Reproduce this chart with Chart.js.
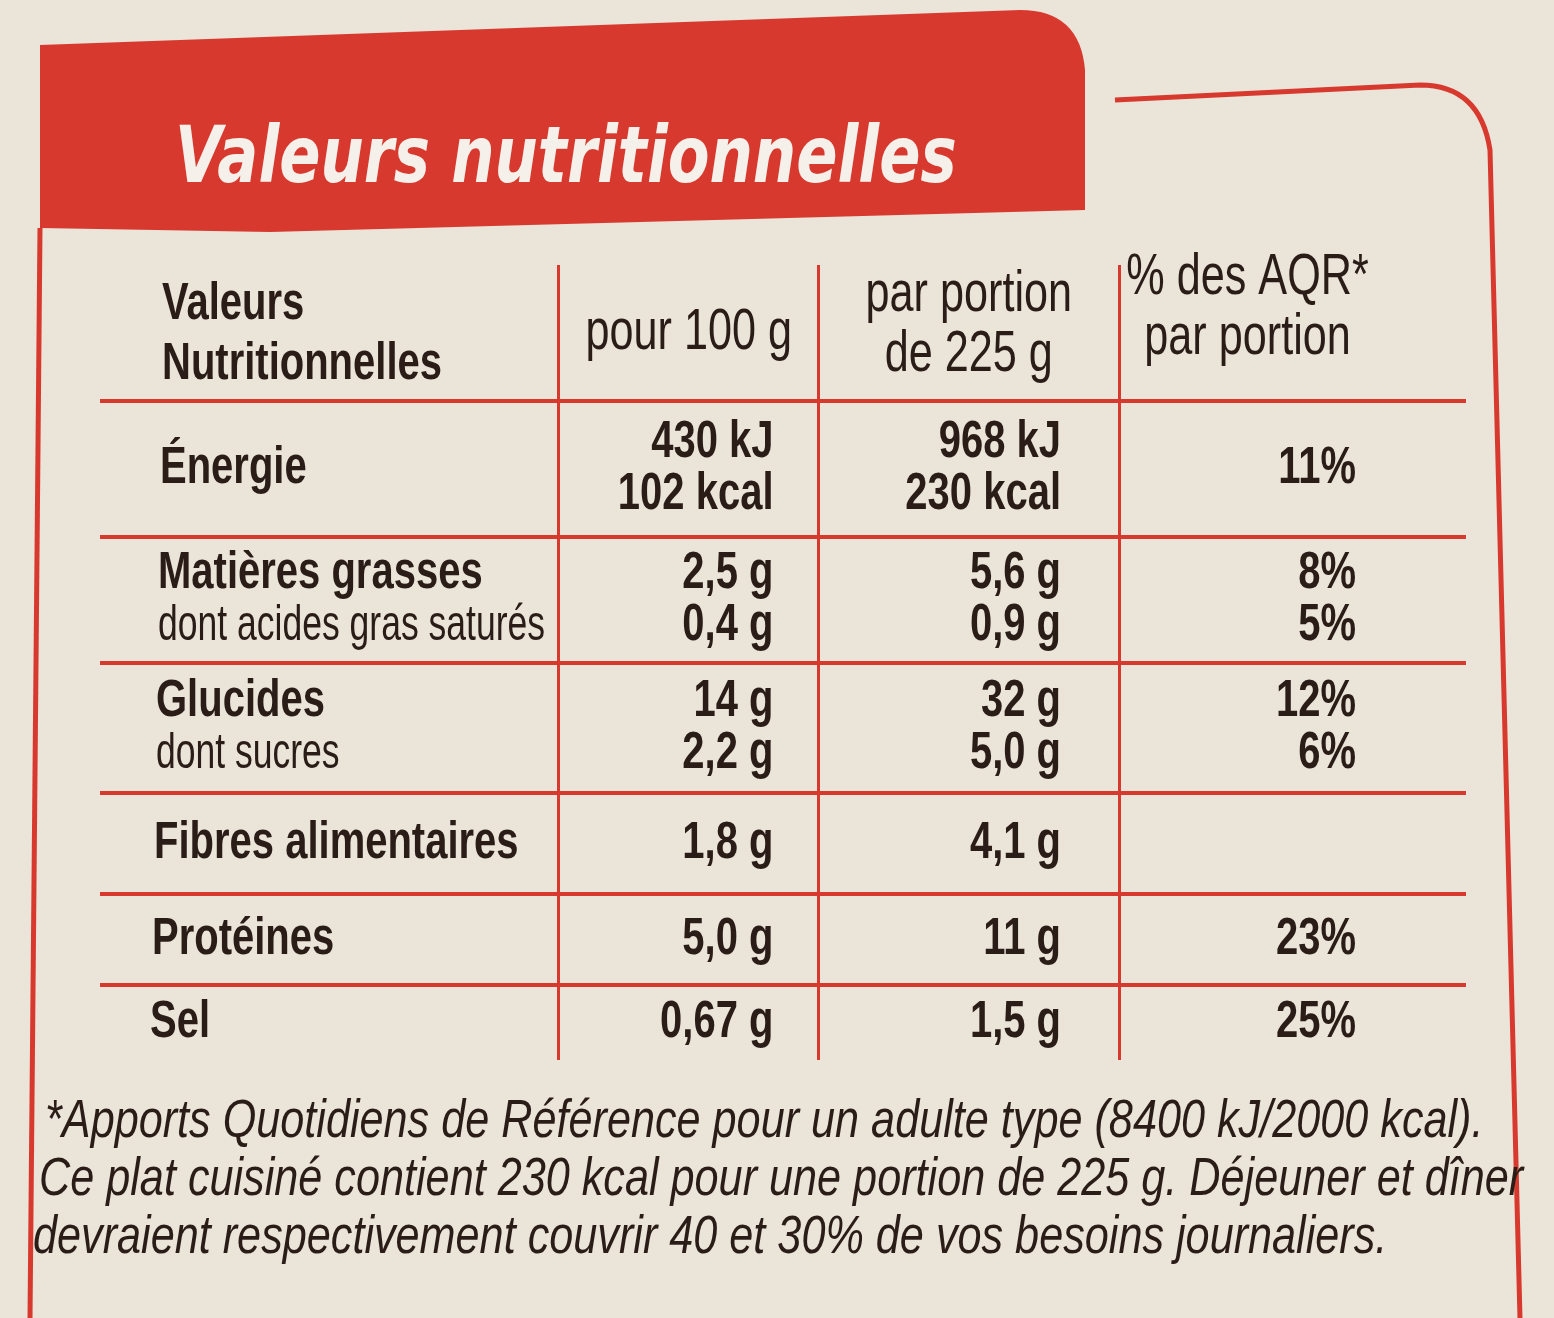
<!DOCTYPE html>
<html><head><meta charset="utf-8">
<script src="https://cdn.jsdelivr.net/npm/chart.js@4/dist/chart.umd.min.js"></script>
<style>html,body{margin:0;padding:0;background:#ebe4d9;}canvas{display:block}</style>
</head><body>
<div style="width:1554px;height:1318px;position:relative"><canvas id="c" width="1554" height="1318"></canvas></div>
<script>
const title = "Valeurs nutritionnelles";
const headers = [["Valeurs","Nutritionnelles"],["pour 100 g"],["par portion","de 225 g"],["% des AQR*","par portion"]];
const nutrients = [["Énergie"],["Matières grasses","dont acides gras saturés"],["Glucides","dont sucres"],["Fibres alimentaires"],["Protéines"],["Sel"]];
const per100 = [["430 kJ","102 kcal"],["2,5 g","0,4 g"],["14 g","2,2 g"],["1,8 g"],["5,0 g"],["0,67 g"]];
const perPortion = [["968 kJ","230 kcal"],["5,6 g","0,9 g"],["32 g","5,0 g"],["4,1 g"],["11 g"],["1,5 g"]];
const aqr = [["11%"],["8%","5%"],["12%","6%"],[],["23%"],["25%"]];
const colBounds = [0, 1.68, 2.63, 3.73, 5];
const rowBounds = [0, 1.35, 2.7, 3.95, 5.25, 6.25, 7.15, 7.9];
const footnote = ["*Apports Quotidiens de Référence pour un adulte type (8400 kJ/2000 kcal).","Ce plat cuisiné contient 230 kcal pour une portion de 225 g. Déjeuner et dîner","devraient respectivement couvrir 40 et 30% de vos besoins journaliers."];

const RED = '#d8392e', INK = '#2a1d18';
const F = '"Liberation Sans",sans-serif';

const deco = {
  id:'deco',
  beforeDraw(ch){
    const c = ch.ctx;
    c.save();
    c.fillStyle='#ebe4d9'; c.fillRect(0,0,ch.width,ch.height);
    c.fillStyle=RED;
    c.beginPath();
    c.moveTo(40,45); c.lineTo(1020,10); c.quadraticCurveTo(1080,10,1085,70);
    c.lineTo(1085,210); c.lineTo(270,232); c.lineTo(40,228); c.closePath(); c.fill();
    c.fillStyle='#f6f0ea';
    c.font='italic bold 78px "DejaVu Sans", sans-serif';
    c.save(); c.translate(175,182); c.scale(0.78,1); c.fillText(title,0,0); c.restore();
    c.strokeStyle=RED; c.lineWidth=5;
    c.beginPath(); c.moveTo(40,228); c.lineTo(30,1318); c.stroke();
    c.beginPath(); c.moveTo(1115,100); c.lineTo(1420,85); c.quadraticCurveTo(1480,85,1490,150);
    c.lineTo(1520,1318); c.stroke();
    c.restore();
  },
  afterDraw(ch){
    const c=ch.ctx, xs=ch.scales.x, ys=ch.scales.y;
    const X=v=>xs.getPixelForValue(v), Y=v=>ys.getPixelForValue(v);
    c.save(); c.fillStyle=INK; c.textBaseline='middle';
    const txt=(s,x,y,size,align,weight,sx)=>{c.save();c.font=(weight||'')+' '+size+'px '+F;c.textAlign=align;c.translate(x,y);c.scale(sx||0.8,1.05);c.fillText(s,0,0);c.restore();};
    const hy=(Y(rowBounds[0])+Y(rowBounds[1]))/2;
    txt(headers[0][0],X(0)+62,hy-28,50,'left','bold');
    txt(headers[0][1],X(0)+62,hy+32,50,'left','bold');
    txt(headers[1][0],(X(colBounds[1])+X(colBounds[2]))/2,hy,54,'center');
    txt(headers[2][0],(X(colBounds[2])+X(colBounds[3]))/2,hy-38,54,'center');
    txt(headers[2][1],(X(colBounds[2])+X(colBounds[3]))/2,hy+22,54,'center');
    txt(headers[3][0],(X(colBounds[3])+X(colBounds[4]))/2-45,hy-55,54,'center');
    txt(headers[3][1],(X(colBounds[3])+X(colBounds[4]))/2-45,hy+5,54,'center');
    nutrients.forEach((lab,i)=>{
      const cy=(Y(rowBounds[i+1])+Y(rowBounds[i+2]))/2;
      const two=lab.length>1||per100[i].length>1;
      const ly=two?[cy-26,cy+26]:[cy];
      txt(lab[0],X(0)+60-i*2,lab.length>1?ly[0]:cy,50,'left','bold');
      if(lab[1]) txt(lab[1],X(0)+60-i*2,ly[1],48,'left','',0.74);
      const yl=per100[i].length>1?ly:[cy];
      per100[i].forEach((s,k)=>txt(s,X(colBounds[2])-45,yl[k],50,'right','bold'));
      perPortion[i].forEach((s,k)=>txt(s,X(colBounds[3])-58,yl[k],50,'right','bold'));
      const ya=aqr[i].length>1?ly:[cy];
      aqr[i].forEach((s,k)=>txt(s,X(colBounds[4])-110,ya[k],50,'right','bold'));
    });
    footnote.forEach((l,i)=>{c.save();c.font='italic 48px '+F;c.textAlign='left';c.translate(45-i*6,1122+i*58);c.scale(0.9,1.1);c.fillText(l,0,0);c.restore();});
    c.restore();
  }
};

const gridOpts=(bounds)=>({
  type:'linear', min:bounds[0], max:bounds[bounds.length-1],
  afterBuildTicks:s=>{s.ticks=bounds.map(v=>({value:v}));},
  ticks:{display:false}, border:{display:false},
  grid:{color:RED,lineWidth:4,drawTicks:false}
});
const xOpt=gridOpts(colBounds);
xOpt.grid={color:(ctx)=> (ctx.index===0||ctx.index===colBounds.length-1)?'rgba(0,0,0,0)':RED,lineWidth:3,drawTicks:false};
const yOpt=gridOpts(rowBounds); yOpt.reverse=true;
yOpt.grid={color:(ctx)=> (ctx.index===0||ctx.index===rowBounds.length-1)?'rgba(0,0,0,0)':RED,lineWidth:4,drawTicks:false};

new Chart(document.getElementById('c'),{
  type:'scatter',
  data:{datasets:[{data:[],pointRadius:0}]},
  options:{responsive:false,animation:false,
    layout:{padding:{left:100,right:88,top:265,bottom:258}},
    plugins:{legend:{display:false},tooltip:{enabled:false}},
    scales:{x:xOpt,y:yOpt}},
  plugins:[deco]
});
</script></body></html>
